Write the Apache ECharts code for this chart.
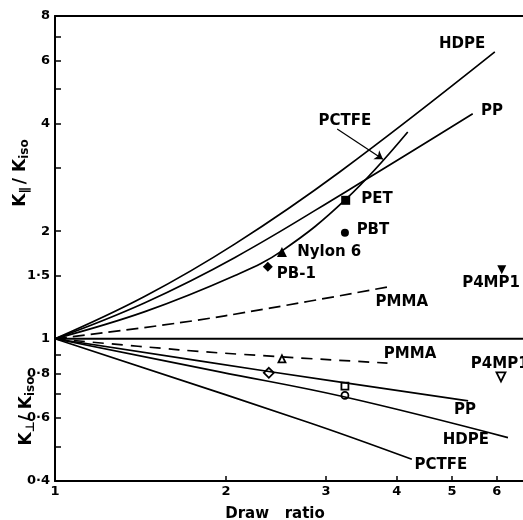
<!DOCTYPE html>
<html>
<head>
<meta charset="utf-8">
<script src="https://cdn.jsdelivr.net/npm/echarts@6/dist/echarts.min.js"></script>
<style>
  html, body { margin: 0; padding: 0; background: #fff; }
  #chart { width: 523px; height: 520px; }
</style>
</head>
<body>
<div id="chart"></div>
<script>
// K∥/Kiso and K⊥/Kiso vs draw ratio, log-log
const xMin = 1, xMax = 6.67;
const yMin = 0.4, yMax = 8;

const xLabelVals = [1, 2, 3, 4, 5, 6];
const xTickVals = [2, 3, 4, 5, 6];
const yLabelVals = [0.4, 0.6, 0.8, 1, 1.5, 2, 4, 6, 8];
const yTickVals = [0.4, 0.5, 0.6, 0.7, 0.8, 0.9, 1, 1.5, 2, 3, 4, 5, 6, 7, 8];

// upper curves (K parallel)
const hdpeUp = [[1, 1], [1.44, 1.315], [2.075, 1.843], [3.176, 2.934], [5.95, 6.35]];
const ppUp = [[1, 1], [1.44, 1.262], [2.075, 1.689], [3.253, 2.58], [5.44, 4.26]];
const pctfeUp = [[1, 1], [1.44, 1.191], [2.075, 1.503], [2.51, 1.762], [3.253, 2.457], [4.18, 3.79]];
const pmmaUp = [[1, 1], [1.66, 1.109], [2.39, 1.218], [3.89, 1.4]];

// lower curves (K perpendicular)
const pmmaDown = [[1, 1], [1.4, 0.953], [1.95, 0.913], [3.85, 0.855]];
const ppDown = [[1, 1], [2.38, 0.81], [5.34, 0.67]];
const hdpeDown = [[1, 1], [1.95, 0.808], [3.24, 0.687], [6.275, 0.529]];
const pctfeDown = [[1, 1], [2.78, 0.585], [4.25, 0.46]];

// single points: PET, PBT, Nylon 6, PB-1, P4MP1
const pointNames = ['PET', 'PBT', 'Nylon 6', 'PB-1', 'P4MP1'];
const parallelPts = [[3.25, 2.44], [3.24, 1.98], [2.51, 1.75], [2.37, 1.59], [6.12, 1.56]];
const perpPts = [[3.24, 0.737], [3.24, 0.694], [2.51, 0.879], [2.38, 0.803], [6.1, 0.782]];

// text notes (data coords of label centres)
const noteText = ['HDPE', 'PP', 'PCTFE', 'PET', 'PBT', 'Nylon 6', 'PB-1', 'PMMA', 'P4MP1',
                  'PMMA', 'P4MP1', 'PP', 'HDPE', 'PCTFE'];
const noteAt = [[5.21, 6.69], [5.88, 4.34], [3.24, 4.07], [3.69, 2.46], [3.63, 2.01], [3.04, 1.745], [2.66, 1.52], [4.08, 1.27], [5.86, 1.43],
                [4.22, 0.908], [6.07, 0.851], [5.27, 0.632], [5.29, 0.52], [4.78, 0.443]];

// PCTFE pointer arrow
const arrowFrom = [3.14, 3.86];
const arrowTo = [3.78, 3.18];

const symbols = ['rect', 'circle', 'triangle', 'diamond', 'triangle'];
const symSizes = [9, 8, 10, 10, 9];
const openSizes = [7, 7, 7, 10, 9];
const font = 'DejaVu Sans';

const chart = echarts.init(document.getElementById('chart'), null, { renderer: 'canvas' });

const solid = (data) => ({
  type: 'line', data, smooth: 0.4, symbol: 'none',
  lineStyle: { color: '#000', width: 1.7 }, silent: true
});
const dashed = (data, dash) => ({
  type: 'line', data, smooth: 0.4, symbol: 'none',
  lineStyle: { color: '#000', width: 1.7, type: dash }, silent: true
});

const pctfeSeries = solid(pctfeUp);
pctfeSeries.markLine = {
  silent: true, symbol: ['none', 'arrow'], symbolSize: 8,
  label: { show: false },
  lineStyle: { color: '#000', width: 1.2, type: 'solid' },
  data: [[{ coord: arrowFrom }, { coord: arrowTo }]]
};

const ptsSeries = (pts, open) => ({
  type: 'scatter', silent: true,
  data: pts.map((p, i) => ({
    value: p,
    symbol: open && i === 1 ? 'circle' : symbols[i],
    symbolSize: open ? openSizes[i] : symSizes[i],
    symbolRotate: i === 4 ? 180 : 0
  })),
  itemStyle: open
    ? { color: '#fff', borderColor: '#000', borderWidth: 1.8, opacity: 1 }
    : { color: '#000', opacity: 1 }
});

const rich = {
  m: { fontFamily: font, fontSize: 17, fontWeight: 'bold', fill: '#000' },
  s: { fontFamily: font, fontSize: 12, fontWeight: 'bold', fill: '#000', padding: [8, 0, 0, 0] }
};

chart.setOption({
  animation: false,
  backgroundColor: '#fff',
  grid: { left: 55, top: 16, width: 468, height: 465, outerBoundsMode: 'none' },
  xAxis: [{
    type: 'log', min: xMin, max: xMax,
    axisLine: { lineStyle: { color: '#000', width: 2 } },
    axisTick: { inside: true, length: 5, customValues: xTickVals, lineStyle: { color: '#000', width: 1.5 } },
    axisLabel: { customValues: xLabelVals, color: '#000', fontFamily: font, fontWeight: 'bold', fontSize: 13, margin: 4 },
    splitLine: { show: false }, minorTick: { show: false }
  }, {
    type: 'log', min: xMin, max: xMax, position: 'top',
    axisLine: { lineStyle: { color: '#000', width: 2 } },
    axisTick: { show: false }, axisLabel: { show: false }, splitLine: { show: false }
  }],
  yAxis: {
    type: 'log', min: yMin, max: yMax,
    axisLine: { lineStyle: { color: '#000', width: 2 } },
    axisTick: { inside: true, length: 6, customValues: yTickVals, lineStyle: { color: '#000', width: 1.5 } },
    axisLabel: {
      customValues: yLabelVals, color: '#000', fontFamily: font, fontWeight: 'bold', fontSize: 13, margin: 5,
      formatter: (v) => String(v).replace('.', '·')
    },
    splitLine: { show: false }
  },
  graphic: [
    {
      type: 'text', x: 21, y: 173, rotation: Math.PI / 2,
      style: { text: '{m|K}{s|∥} {m|/ K}{s|iso}', align: 'center', verticalAlign: 'middle', rich }
    },
    {
      type: 'text', x: 27, y: 411, rotation: Math.PI / 2,
      style: { text: '{m|K}{s|⊥}{m|/ K}{s|iso}', align: 'center', verticalAlign: 'middle', rich }
    },
    {
      type: 'text', x: 275, y: 514,
      style: { text: 'Draw   ratio', fontFamily: font, fontWeight: 'bold', fontSize: 15, fill: '#000', align: 'center', verticalAlign: 'middle' }
    }
  ],
  series: [
    { type: 'line', data: [[xMin, 1], [xMax, 1]], symbol: 'none', silent: true, lineStyle: { color: '#000', width: 1.8 } },
    solid(hdpeUp),
    solid(ppUp),
    pctfeSeries,
    dashed(pmmaUp, [12, 6]),
    dashed(pmmaDown, [11, 8]),
    solid(ppDown),
    solid(hdpeDown),
    solid(pctfeDown),
    ptsSeries(parallelPts, false),
    ptsSeries(perpPts, true),
    {
      type: 'scatter', silent: true, symbolSize: 1,
      itemStyle: { color: 'rgba(0,0,0,0)', opacity: 1 },
      label: {
        show: true, position: 'inside', formatter: (p) => p.name,
        color: '#000', fontFamily: font, fontWeight: 'bold', fontSize: 15,
        textBorderWidth: 0
      },
      data: noteAt.map((p, i) => ({ name: noteText[i], value: p }))
    }
  ]
});
</script>
</body>
</html>
